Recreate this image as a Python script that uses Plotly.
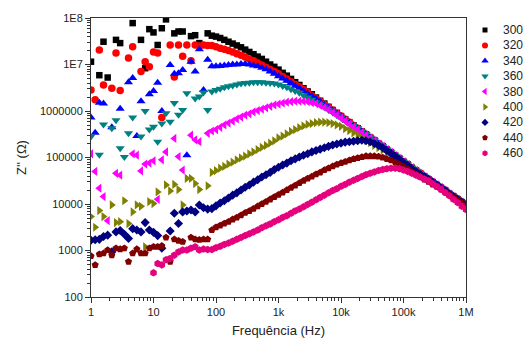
import plotly.graph_objects as go

# Frequency sweep (Hz)
FREQ = [1, 1.166, 1.359, 1.585, 1.848, 2.154, 2.512, 2.929, 3.415, 3.981, 4.642, 5.412, 6.310, 7.356, 8.577,
        10, 11.66, 13.59, 15.85, 18.48, 21.54, 25.12, 29.29, 34.15, 39.81, 46.42, 54.12, 63.10, 73.56, 85.77,
        100, 116.6, 135.9, 158.5, 184.8, 215.4, 251.2, 292.9, 341.5, 398.1, 464.2, 541.2, 631.0, 735.6, 857.7,
        1e3, 1166, 1359, 1585, 1848, 2154, 2512, 2929, 3415, 3981, 4642, 5412, 6310, 7356, 8577,
        1e4, 11660, 13590, 15850, 18480, 21540, 25120, 29290, 34150, 39810, 46420, 54120, 63100, 73560, 85770,
        1e5, 116600, 135900, 158500, 184800, 215400, 251200, 292900, 341500, 398100, 464200, 541200, 631000, 735600, 857700,
        1e6]

# log10 of Z'' (Ohm), one list per temperature
LOGZ_300 = [7.06, None, 6.77, 7.49, 6.72, None, 7.53, 7.46, None, None, 7.89, None, 7.53, 6.92, 7.76, 7.69, 7.42, 7.78, 7.97, None,
            7.67, 7.71, 7.71, None, 7.61, 7.63, 7.46, None, 7.67,
            7.62, 7.60, 7.57, 7.53, 7.49, 7.45, 7.41, 7.37, 7.32, 7.27, 7.22, 7.17, 7.12, 7.06, 7.00, 6.95,
            6.89, 6.82, 6.76, 6.69, 6.62, 6.56, 6.49, 6.42, 6.36, 6.29, 6.22, 6.16, 6.09, 6.02, 5.96, 5.89, 5.82, 5.76, 5.69, 5.63,
            5.56, 5.50, 5.43, 5.37, 5.30, 5.24, 5.17, 5.11, 5.04, 4.98, 4.91, 4.85, 4.78, 4.72, 4.66, 4.59, 4.53, 4.47, 4.41, 4.35,
            4.29, 4.22, 4.16, 4.10, 4.04, 3.98]
LOGZ_320 = [6.45, 6.24, 7.31, 6.56, None, 6.49, 7.25, 6.44, None, 7.14, 7.38, None, 6.85, 7.06, 6.95, 7.27, 7.25, 5.86, None, 7.42,
            6.73, 7.42, 7.18, 7.42, 7.08, 7.42, 7.40, 7.42, 7.41,
            7.41, 7.38, 7.35, 7.33, 7.30, 7.27, 7.23, 7.20, 7.16, 7.12, 7.08, 7.03, 6.99, 6.94, 6.89, 6.85, 6.80, 6.74, 6.69, 6.63,
            6.57, 6.52, 6.46, 6.40, 6.33, 6.27, 6.21, 6.14, 6.08, 6.02, 5.95,
            5.89, 5.82, 5.76, 5.69, 5.63, 5.56, 5.50, 5.43, 5.37, 5.30, 5.24, 5.17, 5.11, 5.04, 4.98, 4.91, 4.85, 4.78, 4.72, 4.66,
            4.59, 4.53, 4.47, 4.41, 4.35, 4.29, 4.22, 4.16, 4.10, 4.04, 3.98]
LOGZ_340 = [5.86, 5.53, 6.18, 6.16, None, 5.65, None, 6.05, None, 6.62, 6.71, 5.46, 6.21, None, 6.36, 6.43, 6.61, 6.00, None, 6.99,
            6.80, 6.81, 6.88, 5.05, 7.06, 6.85, 7.33, 6.45, 7.10,
            6.96, 6.96, 6.97, 6.98, 6.99, 7.00, 7.00, 7.01, 7.01, 7.00, 6.98, 6.96, 6.93, 6.90, 6.85, 6.80, 6.75, 6.70, 6.65, 6.60,
            6.54, 6.49, 6.43, 6.37, 6.32, 6.26, 6.20, 6.13, 6.07, 6.01, 5.94,
            5.89, 5.82, 5.76, 5.69, 5.63, 5.56, 5.50, 5.43, 5.37, 5.30, 5.24, 5.17, 5.11, 5.04, 4.98, 4.91, 4.85, 4.78, 4.72, 4.66,
            4.59, 4.53, 4.47, 4.41, 4.35, 4.29, 4.22, 4.16, 4.10, 4.04, 3.98]
LOGZ_360 = [5.45, None, 5.06, 5.71, None, 5.63, 5.80, 5.20, 5.01, 5.52, 5.86, None, 5.45, 6.00, 5.60, 5.66, 5.34, 5.73, 5.95, 5.77,
            6.17, 5.92, 6.02, 6.38, None, 6.27, 6.31, 6.40, 6.02,
            6.42, 6.45, 6.48, 6.51, 6.53, 6.55, 6.57, 6.59, 6.60, 6.61, 6.62, 6.62, 6.62, 6.61, 6.60, 6.59, 6.57, 6.54, 6.51, 6.47,
            6.43, 6.39, 6.34, 6.29, 6.24, 6.19, 6.14, 6.08, 6.02, 5.97, 5.91, 5.85, 5.79, 5.74, 5.68,
            5.63, 5.56, 5.50, 5.43, 5.37, 5.30, 5.24, 5.17, 5.11, 5.04, 4.98, 4.91, 4.85, 4.78, 4.72, 4.66, 4.59, 4.53, 4.47, 4.41,
            4.35, 4.29, 4.22, 4.16, 4.10, 4.04, 3.98]
LOGZ_380 = [5.08, 4.70, 4.34, 4.16, 3.64, None, 4.66, 4.62, None, None, 5.08, 5.05, 4.71, 4.86, 4.88, 4.93, 4.10, 4.95, 5.12, None,
            5.41, 5.02, 4.73, None, 5.48, 5.38, 5.34, None, 5.52,
            5.57, 5.60, 5.65, 5.70, 5.74, 5.78, 5.83, 5.87, 5.91, 5.94, 5.98, 6.01, 6.04, 6.07, 6.10, 6.13, 6.15, 6.17, 6.19, 6.20,
            6.21, 6.21, 6.21, 6.20, 6.18, 6.16, 6.12, 6.08, 6.03, 5.97, 5.91, 5.85, 5.79, 5.72, 5.66, 5.60, 5.54, 5.48, 5.42, 5.36,
            5.29,
            5.24, 5.17, 5.11, 5.04, 4.98, 4.91, 4.85, 4.78, 4.72, 4.66, 4.59, 4.53, 4.47, 4.41, 4.35, 4.29, 4.22, 4.16, 4.10, 4.04,
            3.98]
LOGZ_400 = [3.73, 3.50, 3.86, 3.73, None, 3.98, 3.60, 3.62, 4.07, 3.58, 3.83, 3.98, 3.95, 3.08, 4.05, 4.01, 4.26, None, 4.41, 4.28,
            4.42, 4.31, 3.98, 4.55, 4.55, 4.44, 4.31, None, 4.39,
            4.68, 4.72, 4.77, 4.81, 4.86, 4.90, 4.95, 4.99, 5.03, 5.08, 5.12, 5.17, 5.22, 5.26, 5.31, 5.36, 5.42, 5.46, 5.51, 5.56,
            5.60, 5.64, 5.68, 5.71, 5.73, 5.75, 5.76, 5.76, 5.75, 5.73, 5.70, 5.67, 5.62, 5.58, 5.53, 5.48, 5.42, 5.37, 5.32, 5.26,
            5.21, 5.16, 5.10, 5.05, 4.99, 4.94, 4.88, 4.83, 4.77, 4.71,
            4.66, 4.59, 4.53, 4.47, 4.41, 4.35, 4.29, 4.22, 4.16, 4.10, 4.04, 3.98]
LOGZ_420 = [3.22, 3.23, 3.24, 3.30, 3.33, 2.97, 3.40, 3.43, 3.35, 3.26, 3.47, 3.44, 3.40, 3.60, 3.44, 3.39, 3.32, 3.05, None, 3.42,
            3.80, 3.58, 3.83, 3.85, 3.87, 3.83, 3.98, 3.92, 3.89,
            3.90, 3.96, 4.02, 4.07, 4.13, 4.19, 4.24, 4.30, 4.36, 4.41, 4.47, 4.52, 4.58, 4.63, 4.68, 4.74, 4.79, 4.84, 4.88, 4.93,
            4.97, 5.01, 5.05, 5.08, 5.12, 5.15, 5.18, 5.21, 5.24, 5.27, 5.29, 5.31, 5.33, 5.34, 5.35, 5.36, 5.37, 5.36, 5.34, 5.30,
            5.26, 5.21, 5.15, 5.09, 5.03, 4.96, 4.89, 4.83, 4.76, 4.70, 4.64,
            4.59, 4.53, 4.47, 4.41, 4.35, 4.29, 4.22, 4.16, 4.10, 4.04, 3.98]
LOGZ_440 = [2.88, 2.69, 2.92, 2.94, 3.01, 2.90, 3.05, 3.03, 3.05, 2.76, 2.94, 3.03, 2.94, 2.94, 3.05, 3.08, 3.08, 3.10, 3.28, 2.76,
            3.24, 3.21, 3.19, None, 3.28, 3.24, 3.23, 3.24, 3.24,
            3.44, 3.50, 3.54, 3.58, 3.62, 3.67, 3.71, 3.76, 3.81, 3.85, 3.90, 3.95, 4.00, 4.05, 4.10, 4.15, 4.20, 4.25, 4.30, 4.35,
            4.40, 4.45, 4.50, 4.55, 4.59, 4.64, 4.68, 4.73, 4.77, 4.81, 4.85, 4.88, 4.91, 4.94, 4.97, 4.99, 5.01, 5.03, 5.03, 5.03,
            5.02, 5.00, 4.97, 4.94, 4.90, 4.85, 4.80, 4.75, 4.69, 4.64, 4.59, 4.53, 4.48, 4.42, 4.37, 4.31, 4.25, 4.20, 4.14, 4.08,
            4.02, 3.96]
LOGZ_460 = [None, None, None, None, None, None, None, None, None, None, None, None, None, None, None,
            2.52, 2.72, 2.69, 2.80, 2.83, 2.90, 2.97, 3.01, 3.01, 3.05, 3.08, 3.01, 3.03, 3.02,
            3.02, 3.06, 3.09, 3.13, 3.16, 3.20, 3.24, 3.28, 3.32, 3.36, 3.40, 3.44, 3.49, 3.53, 3.57, 3.62, 3.66, 3.71, 3.75, 3.80,
            3.85, 3.89, 3.94, 3.99, 4.04, 4.09, 4.14, 4.19, 4.24, 4.29, 4.33, 4.38, 4.42, 4.47, 4.51, 4.55, 4.59, 4.63, 4.66, 4.69,
            4.72, 4.74, 4.76, 4.77, 4.77, 4.76, 4.73, 4.70, 4.66, 4.62, 4.58, 4.54, 4.50, 4.44, 4.38, 4.32, 4.25, 4.18, 4.10, 4.03,
            3.95, 3.88]

TEMPS = ["300", "320", "340", "360", "380", "400", "420", "440", "460"]
SERIES = [LOGZ_300, LOGZ_320, LOGZ_340, LOGZ_360, LOGZ_380, LOGZ_400, LOGZ_420, LOGZ_440, LOGZ_460]

X_TICKS = [1, 10, 100, 1e3, 1e4, 1e5, 1e6]
X_LABELS = ["1", "10", "100", "1k", "10k", "100k", "1M"]
Y_TICKS = [1e2, 1e3, 1e4, 1e5, 1e6, 1e7, 1e8]
Y_LABELS = ["100", "1000", "10000", "100000", "1000000", "1E7", "1E8"]

COLORS = ["#000000", "#FF0000", "#0000FF", "#008080", "#FF00FF", "#808000", "#000080", "#800000", "#E5007E"]
SYMBOLS = ["square", "circle", "triangle-up", "triangle-down", "triangle-left", "triangle-right", "diamond", "pentagon", "hexagon"]
SIZES = [6.5, 7.5, 8, 8, 8, 8, 7, 7.5, 7.5]

# figure layout in pixels
W, H = 525, 340
L, R, T, B = 91, 466, 18, 297          # main plot box
LX0 = 470                               # left edge of legend panel

fig = go.Figure()
for name, logs, col, sym, sz in zip(TEMPS, SERIES, COLORS, SYMBOLS, SIZES):
    assert len(logs) == len(FREQ), name
    z = [None if v is None else 10 ** v for v in logs]
    fig.add_trace(go.Scatter(x=FREQ, y=z, mode="markers", name=name, showlegend=False,
                             marker=dict(symbol=sym, color=col, size=sz, line=dict(width=0))))

# custom legend: a pixel-scaled side panel (x2/y2) holding one marker per series + text labels
LEG_MARK_X, LEG_TEXT_X, LEG_Y0, LEG_DY = 485, 502, 30, 15.4
annotations = []
for i, (name, col, sym, sz) in enumerate(zip(TEMPS, COLORS, SYMBOLS, SIZES)):
    yy = LEG_Y0 + i * LEG_DY
    fig.add_trace(go.Scatter(x=[LEG_MARK_X], y=[yy], xaxis="x2", yaxis="y2", mode="markers",
                             showlegend=False, hoverinfo="skip",
                             marker=dict(symbol=sym, color=col, size=sz - 1.5, line=dict(width=0))))
    annotations.append(dict(x=LEG_TEXT_X, y=yy, xref="x2", yref="y2", text=name, showarrow=False,
                            xanchor="left", yanchor="middle", borderpad=0,
                            font=dict(size=12, color="#222")))

axis_col = "#333333"
minor_x = [m * 10 ** d for d in range(0, 6) for m in range(2, 10)]
minor_y = [m * 10 ** d for d in range(2, 8) for m in range(2, 10)]

fig.update_layout(
    xaxis=dict(type="log", range=[0, 6], domain=[L / W, R / W], anchor="y",
               tickmode="array", tickvals=X_TICKS, ticktext=X_LABELS,
               ticks="outside", ticklen=5, tickwidth=1, tickcolor=axis_col,
               showline=True, linecolor=axis_col, linewidth=1, mirror=True,
               showgrid=False, zeroline=False,
               minor=dict(tickmode="array", tickvals=minor_x, ticks="outside", ticklen=3,
                          tickcolor=axis_col, showgrid=False),
               tickfont=dict(size=11, color="#222"),
               title=dict(text="Frequência (Hz)", font=dict(size=13, color="#222"), standoff=8)),
    yaxis=dict(type="log", range=[2, 8], domain=[1 - B / H, 1 - T / H], anchor="x",
               tickmode="array", tickvals=Y_TICKS, ticktext=Y_LABELS,
               ticks="outside", ticklen=5, tickwidth=1, tickcolor=axis_col,
               showline=True, linecolor=axis_col, linewidth=1, mirror=True,
               showgrid=False, zeroline=False,
               minor=dict(tickmode="array", tickvals=minor_y, ticks="outside", ticklen=3,
                          tickcolor=axis_col, showgrid=False),
               tickfont=dict(size=11, color="#222"),
               title=dict(text="Z'' (Ω)", font=dict(size=13, color="#222"), standoff=10)),
    xaxis2=dict(domain=[LX0 / W, 1], range=[LX0, W], anchor="y2", visible=False, fixedrange=True),
    yaxis2=dict(domain=[0, 1], range=[H, 0], anchor="x2", visible=False, fixedrange=True),
    annotations=annotations,
    width=W, height=H, margin=dict(l=0, r=0, t=0, b=0, autoexpand=False),
    paper_bgcolor="white", plot_bgcolor="rgba(0,0,0,0)", showlegend=False,
    font=dict(family="Liberation Sans, Arial, sans-serif", size=11, color="#222"),
)

fig.write_html("out.html", config={"displayModeBar": False, "staticPlot": True},
               post_script="document.body.style.margin='0';document.body.style.overflow='hidden';")
